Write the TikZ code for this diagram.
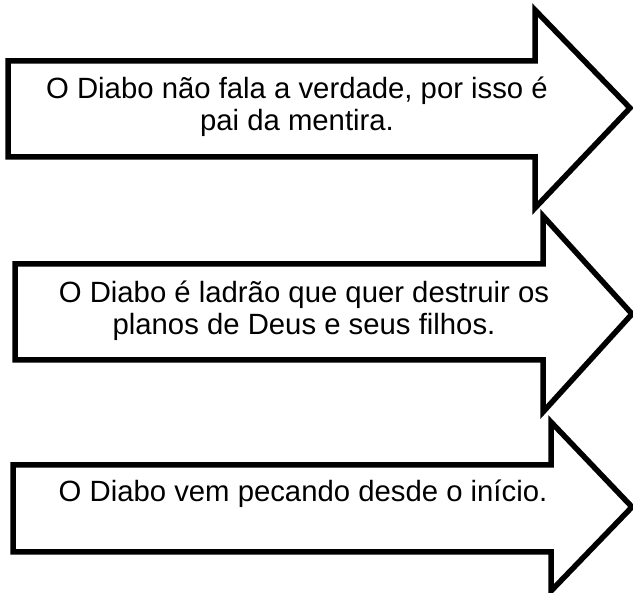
\documentclass[tikz,border=0pt]{standalone}
\usepackage{fontspec}
\setmainfont{Liberation Sans}
\begin{document}
\begin{tikzpicture}[x=1pt, y=-1pt,
  seta/.style={draw=black, fill=white, line width=5.5pt},
  texto/.style={align=center, font=\fontsize{29.3}{32}\selectfont, inner sep=0pt}]
\useasboundingbox (0,0) rectangle (633,593);
% first arrow
\draw [seta] (8,61)--(535,61)--(535,10)--(630,108)--(535,208)--(535,157)--(8,157)--cycle;
\node [texto] (t1) at (297,107) {O Diabo não fala a verdade, por isso é\\pai da mentira.};
% second arrow
\draw [seta] (15,264)--(543,264)--(543,216)--(632,314)--(543,412)--(543,360)--(15,360)--cycle;
\node [texto] (t2) at (304,311) {O Diabo é ladrão que quer destruir os\\planos de Deus e seus filhos.};
% third arrow
\draw [seta] (13,465)--(551,465)--(551,422)--(632,507)--(551,591)--(551,552)--(13,552)--cycle;
\node [texto, anchor=base] (t3) at (303,502) {O Diabo vem pecando desde o início.};
\end{tikzpicture}
\end{document}
